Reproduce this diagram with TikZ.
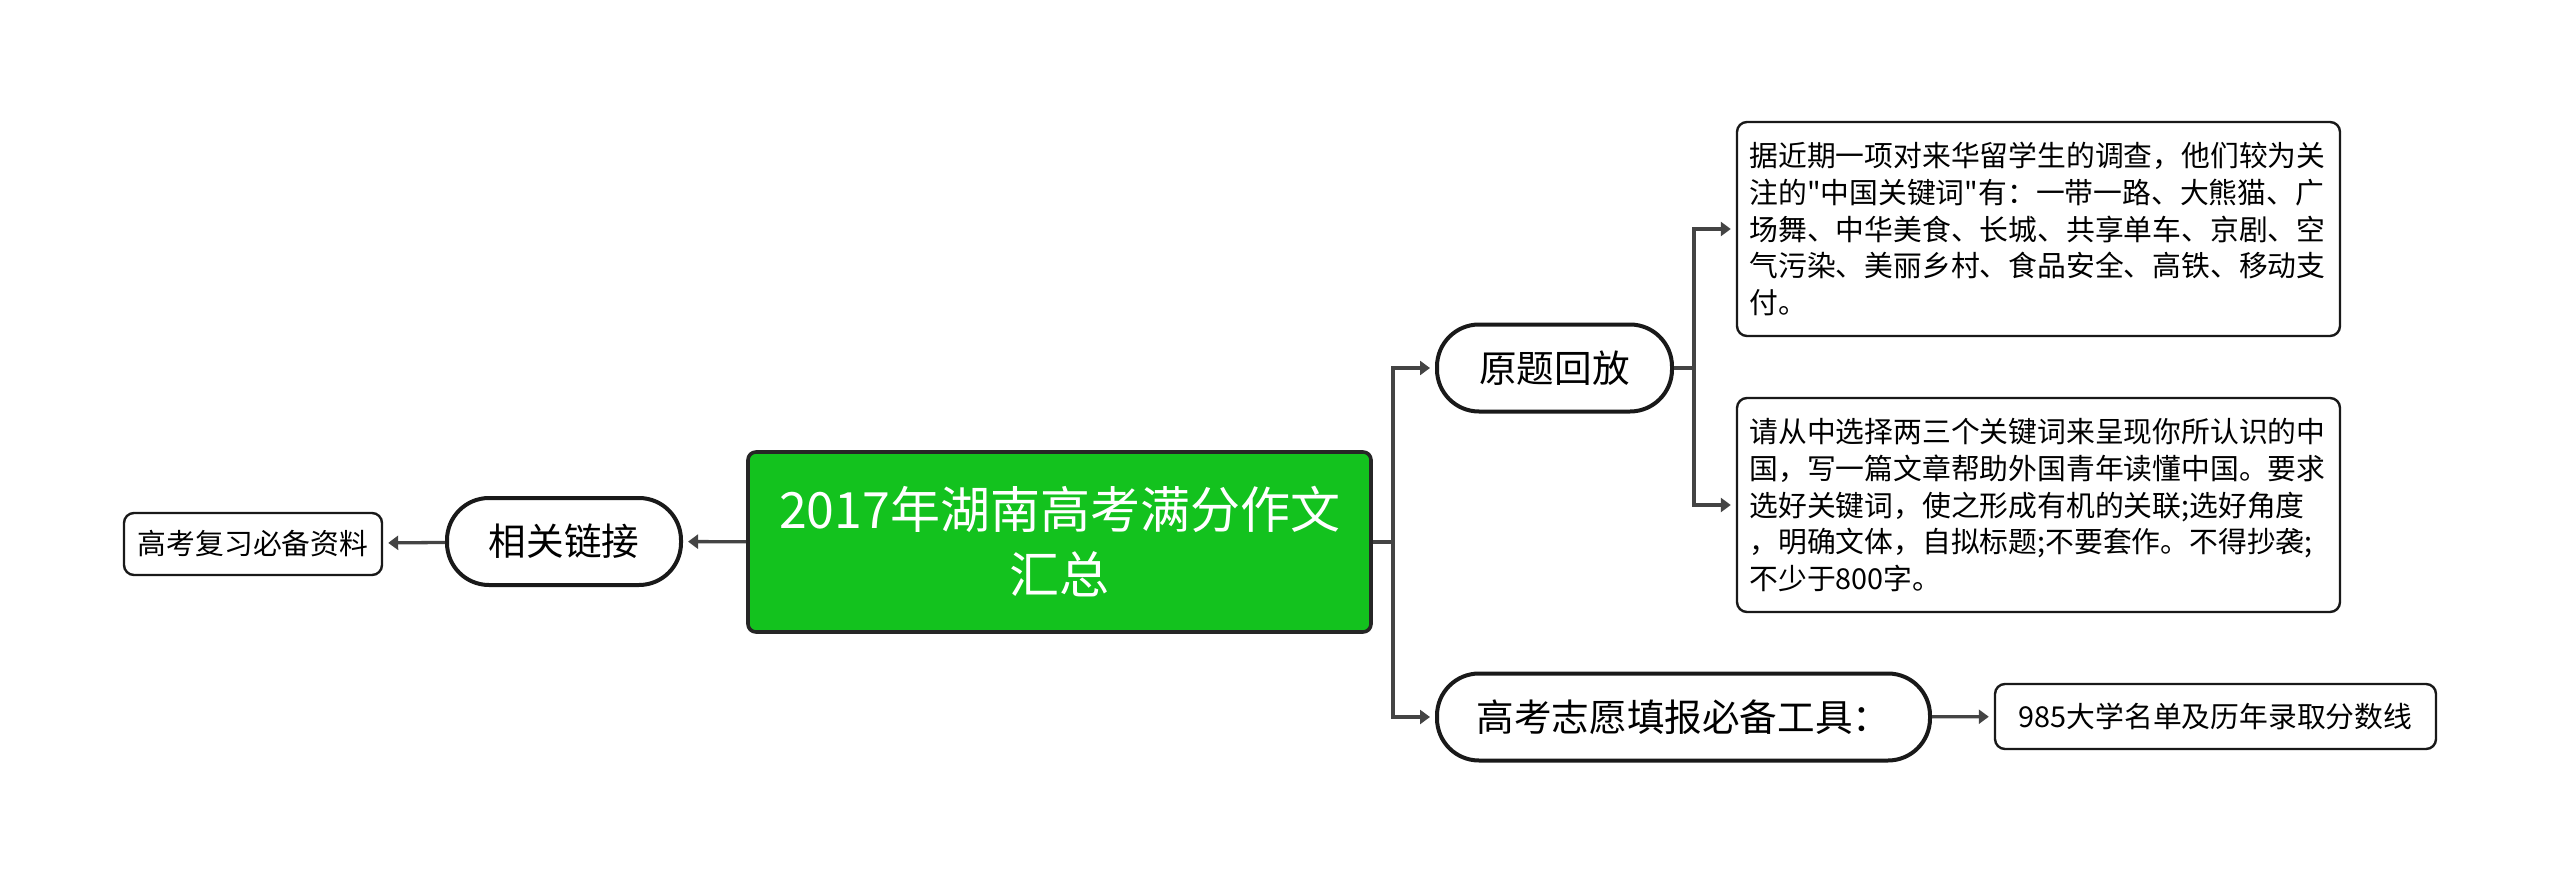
\documentclass[tikz,border=0pt]{standalone}
\usepackage{fontspec}
\newfontfamily\cjk{Noto Sans CJK SC}
\usepackage{tikz}
\usetikzlibrary{arrows.meta}
\definecolor{rootgreen}{HTML}{13C21E}
\definecolor{linkgray}{HTML}{444444}

\begin{document}
\begin{tikzpicture}[x=0.5pt, y=-0.5pt,
  topic/.style={draw=black!90, line width=2pt, rounded corners=21pt, fill=white, minimum height=43.5pt, font=\cjk\fontsize{18.8}{22}\selectfont},
  leaf/.style={draw=black!90, line width=1.2pt, rounded corners=5pt, fill=white, font=\cjk\fontsize{14.4}{18.3}\selectfont},
  conn/.style={draw=linkgray, line width=1.65pt, shorten >=2.5pt, -{Triangle[length=5pt,width=7pt]}}]
  \useasboundingbox (0,0) rectangle (2560,883);
  \node[draw=black!85, line width=1.8pt, rounded corners=4pt, fill=rootgreen, text=white, minimum width=311.5pt, minimum height=90pt, align=center, font=\cjk\fontsize{25}{32.5}\selectfont] (root) at (1059.5,542) {2017年湖南高考满分作文\\汇总};
  \node[topic, minimum width=117pt] (link) at (564,541.5) {相关链接};
  \node[leaf, minimum width=129pt, minimum height=31pt] (ref) at (253,544) {高考复习必备资料};
  \node[topic, minimum width=117.5pt] (orig) at (1554.5,368) {原题回放};
  \node[topic, minimum width=246.5pt] (tool) at (1683.5,717) {高考志愿填报必备工具：};
  \node[leaf, minimum width=220.5pt, minimum height=32.5pt] (list) at (2215.5,716.5) {985大学名单及历年录取分数线};
  \node[leaf, minimum width=301.5pt, minimum height=107pt, text width=289pt, inner xsep=6pt, align=left] (q1) at (2038.5,229)
    {据近期一项对来华留学生的调查，他们较为关\\注的"中国关键词"有：一带一路、大熊猫、广\\场舞、中华美食、长城、共享单车、京剧、空\\气污染、美丽乡村、食品安全、高铁、移动支\\付。};
  \node[leaf, minimum width=301.5pt, minimum height=107pt, text width=289pt, inner xsep=6pt, align=left] (q2) at (2038.5,505)
    {请从中选择两三个关键词来呈现你所认识的中\\国，写一篇文章帮助外国青年读懂中国。要求\\选好关键词，使之形成有机的关联;选好角度\\，明确文体，自拟标题;不要套作。不得抄袭;\\不少于800字。};
  \coordinate (jr) at (1393,542);
  \coordinate (jo) at (1694,368);
  \draw[conn] (root.east) -- (jr) |- (orig.west);
  \draw[conn] (jr) |- (tool.west);
  \draw[conn] (orig.east) -- (jo) |- (q1.west);
  \draw[conn] (jo) |- (q2.west);
  \draw[conn] (tool) -- (list);
  \draw[conn] (root) -- (link);
  \draw[conn] (link) -- (ref);
\end{tikzpicture}
\end{document}
